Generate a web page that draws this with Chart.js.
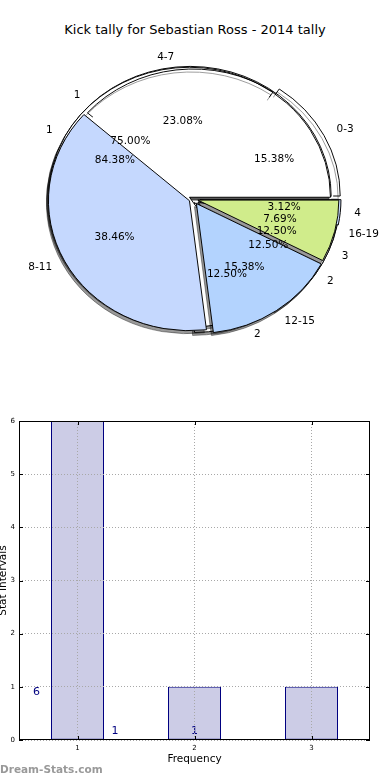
<!DOCTYPE html>
<html>
<head>
<meta charset="utf-8">
<script src="https://cdn.jsdelivr.net/npm/chart.js@4.4.1/dist/chart.umd.min.js"></script>
<style>
  html, body { margin: 0; padding: 0; background: #fff; }
  body { width: 390px; height: 780px; position: relative; overflow: hidden; font-family: "DejaVu Sans", sans-serif; }
  canvas { position: absolute; left: 0; }
  #title { position: absolute; top: 22px; left: 0; width: 390px; text-align: center; font-size: 13px; color: #000; }
  #mark { position: absolute; left: 0; top: 763px; font-size: 10.5px; font-weight: bold; color: #999; }
</style>
</head>
<body>
<div id="title">Kick tally for Sebastian Ross - 2014 tally</div>
<canvas id="pie3" width="390" height="398" style="top:0"></canvas>
<canvas id="pie2" width="390" height="398" style="top:0"></canvas>
<canvas id="pie1" width="390" height="398" style="top:0"></canvas>
<canvas id="bars" width="390" height="380" style="top:400px"></canvas>
<div id="mark">Dream-Stats.com</div>
<script>
// kick ranges (pie on top)
const kickRanges = ['0-3', '4-7', '8-11', '12-15', '16-19'];
const kickCounts = [2, 3, 5, 2, 1];
// second tally pie
const tallyLabels = ['1', '2', '4'];
const tallyCounts = [27, 4, 1];
// frequency (third pie + bar chart)
const freqLabels = ['1', '2', '3'];
const freqCounts = [6, 1, 1];
const yTicks = [0, 1, 2, 3, 4, 5, 6];

Chart.defaults.font.family = '"DejaVu Sans", sans-serif';

const K = 130 / 141;   // pie is a bit squashed vertically
const SHADOW = [-2, 3];
const pieCharts = [];

function squashAt(ctx, cx, cy) {
  ctx.translate(cx, cy);
  ctx.scale(1, K);
  ctx.translate(-cx, -cy);
}

// python style rounding (3.125 -> 3.12)
function pct(f) {
  const n = f * 10000;
  let r = Math.round(n);
  const fl = Math.floor(n);
  if (Math.abs(n - fl - 0.5) < 1e-7) r = fl % 2 === 0 ? fl : fl + 1;
  return (r / 100).toFixed(2) + '%';
}

const explodedPie = {
  id: 'explodedPie',
  beforeDatasetDraw(chart) {
    const ctx = chart.ctx;
    const meta = chart.getDatasetMeta(0);
    const ds = chart.data.datasets[0];
    const cx = meta.data[0].x, cy = meta.data[0].y;
    const pass = (dx, dy, filter) => {
      meta.data.forEach((arc, i) => {
        const mid = (arc.startAngle + arc.endAngle) / 2;
        ctx.save();
        ctx.translate(dx, dy);
        squashAt(ctx, cx, cy);
        ctx.translate(ds.explode[i] * Math.cos(mid), ds.explode[i] * Math.sin(mid));
        if (ds.rimOnly && ds.rimOnly[i]) {
          // only keep the outer rim of see-through slices
          ctx.beginPath();
          ctx.rect(-1000, -1000, 3000, 3000);
          ctx.arc(arc.x, arc.y, arc.outerRadius - 7, 0, Math.PI * 2);
          ctx.clip('evenodd');
        }
        if (filter) ctx.filter = filter;
        arc.draw(ctx);
        ctx.restore();
      });
    };
    pass(SHADOW[0], SHADOW[1], 'brightness(0) opacity(0.4)');
    pass(0, 0, null);
    return false;
  }
};

// all pie texts go on the top canvas
const pieLabels = {
  id: 'pieLabels',
  afterDraw(chart) {
    const list = pieCharts.includes(chart) ? pieCharts : pieCharts.concat(chart);
    const ctx = chart.ctx;
    ctx.save();
    ctx.font = '10.5px "DejaVu Sans"';
    ctx.fillStyle = '#000';
    ctx.textBaseline = 'middle';
    list.forEach(c => {
      const meta = c.getDatasetMeta(0);
      const ds = c.data.datasets[0];
      const total = ds.data.reduce((a, b) => a + b, 0);
      meta.data.forEach((arc, i) => {
        const mid = (arc.startAngle + arc.endAngle) / 2;
        const cos = Math.cos(mid), sin = Math.sin(mid);
        const r = arc.outerRadius, e = ds.explode[i];
        const at = d => [arc.x + d * cos, arc.y + d * sin * K];
        let [x, y] = at(1.1 * r + e);
        ctx.textAlign = cos > 0 ? 'left' : 'right';
        ctx.fillText(c.data.labels[i], x, y);
        [x, y] = at(0.6 * r + e);
        ctx.textAlign = 'center';
        ctx.fillText(pct(ds.data[i] / total), x, y);
      });
    });
    ctx.restore();
  }
};

function makePie(id, labels, values, colors, shifts, rim, plugins) {
  // chart.js goes clockwise, matplotlib counter-clockwise from 3 o'clock
  const order = values.map((_, i) => values.length - 1 - i);
  return new Chart(document.getElementById(id), {
    type: 'pie',
    data: {
      labels: order.map(i => labels[i]),
      datasets: [{
        data: order.map(i => values[i]),
        backgroundColor: order.map(i => colors[i]),
        explode: order.map(i => shifts[i]),
        rimOnly: order.map(i => rim[i]),
        borderColor: '#000',
        borderWidth: 1
      }]
    },
    options: {
      responsive: false,
      animation: false,
      events: [],
      rotation: 90,
      radius: 141,
      layout: { padding: { right: 4 } },
      plugins: { legend: { display: false }, tooltip: { enabled: false } }
    },
    plugins: plugins
  });
}

pieCharts.push(makePie('pie3', freqLabels, freqCounts,
  ['#ffffff', '#ffffff', '#c5d8fe'], [4, 4, 6], [false, false, false], [explodedPie]));
pieCharts.push(makePie('pie2', tallyLabels, tallyCounts,
  ['#ffffff', '#ffffff', '#c5d8fe'], [4, 6, 7], [false, false, false], [explodedPie]));
pieCharts.push(makePie('pie1', kickRanges, kickCounts,
  ['rgba(255,255,255,0)', 'rgba(255,255,255,0)', '#c5d8fe', '#b3d3fe', '#d0ec8b'],
  [7, 0, 4, 6, 5], [true, true, false, false, false], [explodedPie, pieLabels]));

// ---- bar chart ----
const noteX = [-0.35, 0.32, 1.0];
const noteY = [0.9, 0.17, 0.17];

const frame = {
  id: 'frame',
  afterDraw(chart) {
    const { ctx, chartArea: a, scales } = chart;
    const line = (x1, y1, x2, y2) => { ctx.beginPath(); ctx.moveTo(x1, y1); ctx.lineTo(x2, y2); ctx.stroke(); };
    ctx.save();
    ctx.strokeStyle = '#000';
    ctx.lineWidth = 1;
    ctx.strokeRect(a.left + 0.5, a.top + 0.5, a.right - a.left - 1, a.bottom - a.top - 1);
    scales.y.ticks.forEach(t => {
      const y = Math.round(scales.y.getPixelForValue(t.value)) + 0.5;
      line(a.left, y, a.left + 4, y);
      line(a.right - 4, y, a.right, y);
    });
    scales.x.ticks.forEach((t, i) => {
      const x = Math.round(scales.x.getPixelForTick(i)) + 0.5;
      line(x, a.bottom - 4, x, a.bottom);
      line(x, a.top, x, a.top + 4);
    });
    ctx.restore();
  }
};

const barNotes = {
  id: 'barNotes',
  afterDatasetsDraw(chart) {
    const { ctx, scales } = chart;
    ctx.save();
    ctx.font = '11px "DejaVu Sans"';
    ctx.fillStyle = '#000080';
    ctx.textAlign = 'center';
    ctx.textBaseline = 'middle';
    freqCounts.forEach((v, i) => {
      ctx.fillText(String(v), scales.x.getPixelForValue(noteX[i]), scales.y.getPixelForValue(noteY[i]));
    });
    ctx.restore();
  }
};

new Chart(document.getElementById('bars'), {
  type: 'bar',
  data: {
    labels: freqLabels,
    datasets: [{
      data: freqCounts,
      backgroundColor: '#ccccE6',
      borderColor: '#000080',
      borderWidth: 1,
      borderSkipped: false,
      barPercentage: 53 / 117,
      categoryPercentage: 1
    }]
  },
  options: {
    responsive: false,
    animation: false,
    events: [],
    layout: { padding: { top: 21, right: 20, left: 0, bottom: 0 } },
    plugins: { legend: { display: false }, tooltip: { enabled: false } },
    scales: {
      x: {
        grid: { offset: false, color: '#a8a8a8', drawTicks: false, z: 1 },
        border: { display: false, dash: [1, 2] },
        ticks: { color: '#000', font: { size: 7 }, padding: 4 },
        title: { display: true, text: 'Frequency', color: '#000', font: { size: 10.5 }, padding: { top: 0, bottom: 14 } },
        afterFit(s) { s.height = 40; }
      },
      y: {
        min: 0,
        max: 6,
        afterBuildTicks(s) { s.ticks = yTicks.map(v => ({ value: v })); },
        grid: { color: '#a8a8a8', drawTicks: false, z: 1 },
        border: { display: false, dash: [1, 2] },
        ticks: { color: '#000', font: { size: 7 }, padding: 4 },
        title: { display: true, text: 'Stat Intervals', color: '#000', font: { size: 10.5 }, padding: { top: -3, bottom: 0 } },
        afterFit(s) { s.width = 19; }
      }
    }
  },
  plugins: [frame, barNotes]
});
</script>
</body>
</html>
